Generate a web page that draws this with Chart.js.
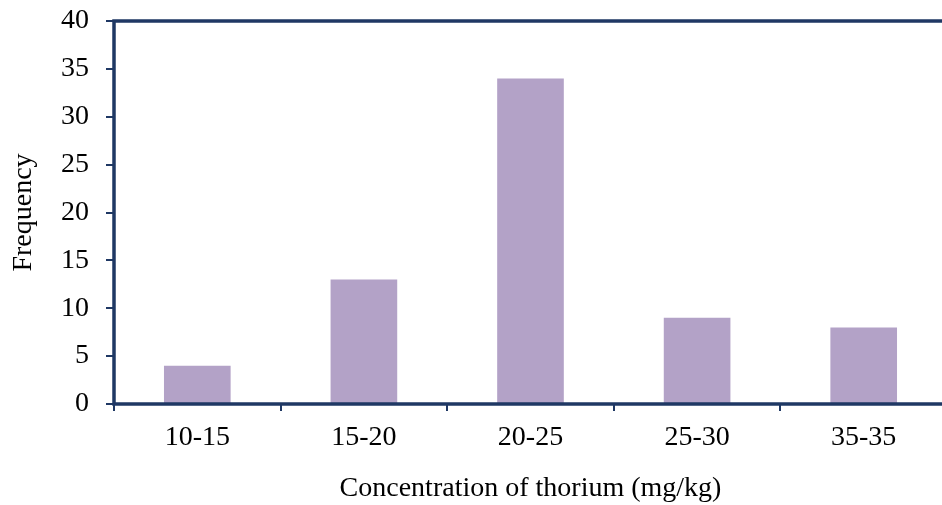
<!DOCTYPE html>
<html>
<head>
<meta charset="utf-8">
<script src="https://cdn.jsdelivr.net/npm/chart.js@4"></script>
<style>
html,body{margin:0;padding:0;background:#fff;overflow:hidden;}
#wrap{width:950px;height:505px;position:relative;}
</style>
</head>
<body>
<div id="wrap"><canvas id="c" width="950" height="505"></canvas></div>
<script>
const categories = ["10-15", "15-20", "20-25", "25-30", "35-35"];
const frequency = [4, 13, 34, 9, 8];
const yTicks = [0, 5, 10, 15, 20, 25, 30, 35, 40];

const axisColor = '#1f3864';
const fontFamily = '"Liberation Serif", "Times New Roman", serif';

const framePlugin = {
  id: 'frame',
  afterDraw(chart) {
    const {ctx, chartArea: a} = chart;
    ctx.save();
    ctx.strokeStyle = axisColor;
    ctx.lineWidth = 3.5;
    ctx.beginPath();
    ctx.moveTo(a.right + 10, a.top);
    ctx.lineTo(a.left, a.top);
    ctx.lineTo(a.left, a.bottom);
    ctx.lineTo(a.right + 10, a.bottom);
    ctx.stroke();
    ctx.restore();
  }
};

new Chart(document.getElementById('c'), {
  type: 'bar',
  data: {
    labels: categories,
    datasets: [{
      data: frequency,
      backgroundColor: '#b3a2c7',
      borderWidth: 0,
      categoryPercentage: 0.4,
      barPercentage: 1.0
    }]
  },
  options: {
    responsive: false,
    animation: false,
    devicePixelRatio: 1,
    layout: { autoPadding: false, padding: { top: 21, right: 3, bottom: 0, left: 0 } },
    plugins: { legend: { display: false }, tooltip: { enabled: false } },
    scales: {
      x: {
        grid: { display: true, drawOnChartArea: false, offset: true, color: axisColor, lineWidth: 2, tickLength: 7 },
        border: { display: false },
        ticks: { color: '#000', font: { family: fontFamily, size: 28 }, padding: 10, maxRotation: 0 },
        title: { display: true, text: 'Concentration of thorium (mg/kg)', color: '#000', font: { family: fontFamily, size: 28 }, padding: { top: 8, bottom: 0 } },
        afterFit(s) { s.height = 101; s.paddingLeft = 0; s.paddingRight = 0; }
      },
      y: {
        min: 0, max: 40,
        afterBuildTicks(s) { s.ticks = yTicks.map(v => ({ value: v })); },
        grid: { display: true, drawOnChartArea: false, color: axisColor, lineWidth: 2, tickLength: 8 },
        border: { display: false },
        ticks: { color: '#000', font: { family: fontFamily, size: 28 }, padding: 17 },
        title: { display: true, text: 'Frequency', color: '#000', font: { family: fontFamily, size: 28 }, padding: { top: 7, bottom: 0 } },
        afterFit(s) { s.width = 114; s.paddingTop = 0; s.paddingBottom = 0; }
      }
    }
  },
  plugins: [framePlugin]
});
</script>
</body>
</html>
